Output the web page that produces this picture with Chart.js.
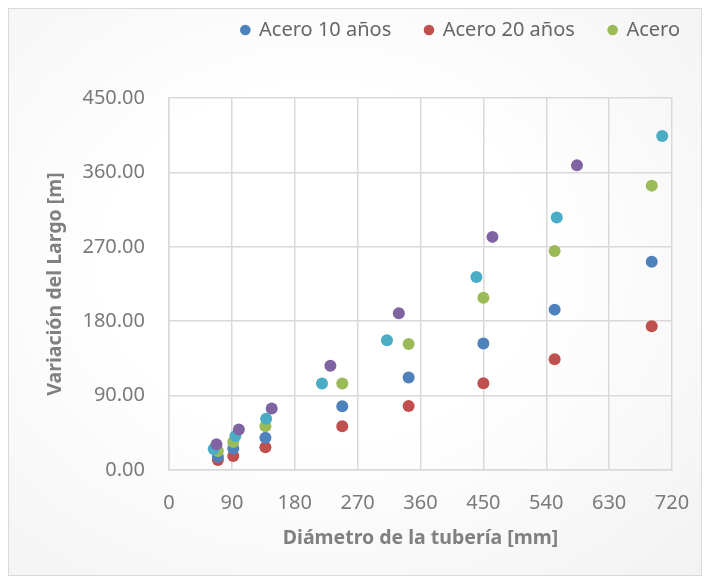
<!DOCTYPE html>
<html>
<head>
<meta charset="utf-8">
<script src="https://cdn.jsdelivr.net/npm/chart.js@4"></script>
<style>
  html, body { margin: 0; padding: 0; background: #fff; }
  #wrap {
    position: absolute; left: 8px; top: 8px; width: 692px; height: 566px;
    border: 1px solid #d9d9d9;
    background: radial-gradient(ellipse at 45% 45%, #ffffff 40%, #f2f2f2 100%);
  }
  #c { position: absolute; left: 0; top: 0; }
</style>
</head>
<body>
<div id="wrap"></div>
<canvas id="c" width="708" height="582"></canvas>
<script>
// diámetros [mm] y variación del largo [m]
const xAcero = [70, 92, 138, 248, 343, 450, 552, 691];
const acero10 = [16, 26, 39, 77, 112, 153, 194, 252];
const acero20 = [12, 17, 27.5, 53, 77.5, 105, 134, 174];
const acero = [23, 34, 53, 104.5, 152.5, 208.5, 265, 344];

const xCyan = [64, 95, 139, 219, 312, 440, 555, 706];
const yCyan = [25.5, 41, 62, 104.5, 157, 233.5, 305.5, 404];
const xPurple = [68, 100, 147, 231, 329, 463, 584];
const yPurple = [31, 49, 74.5, 126, 189.5, 282, 368.5];

const xTicks = [0, 90, 180, 270, 360, 450, 540, 630, 720];
const yTicks = [0, 90, 180, 270, 360, 450];
const legendOrder = ["Acero 10 años", "Acero 20 años", "Acero"];

const pts = (xs, ys) => xs.map((x, i) => ({ x, y: ys[i] }));

const GRID = "#d9d9d9";
const TXT = "#7a7a7a";
const FONT = "'Noto Sans', 'Open Sans', sans-serif";

function ds(label, data, color) {
  return {
    label, data,
    backgroundColor: color,
    borderColor: color,
    borderWidth: 0,
    pointRadius: 6,
    pointHoverRadius: 6,
    showLine: false,
  };
}

// leyenda más arriba y más espacio hasta el área del gráfico (como en Excel)
const legendGap = {
  id: "legendGap",
  beforeLayout(chart) {
    const lg = chart.legend;
    if (lg && !lg._gapWrapped) {
      const fit = lg.fit;
      lg.fit = function () { fit.call(this); this.height += 26; };
      lg._gapWrapped = true;
    }
  },
  afterLayout(chart) {
    const lg = chart.legend;
    lg.top -= 22; lg.bottom -= 22;
    lg.left += 6; lg.right += 6;
  },
};

new Chart(document.getElementById("c"), {
  type: "scatter",
  data: {
    datasets: [
      ds("", pts(xPurple, yPurple), "#8064A2"),
      ds("", pts(xCyan, yCyan), "#4BACC6"),
      ds("Acero", pts(xAcero, acero), "#9BBB59"),
      ds("Acero 10 años", pts(xAcero, acero10), "#4F81BD"),
      ds("Acero 20 años", pts(xAcero, acero20), "#C0504D"),
    ],
  },
  plugins: [legendGap],
  options: {
    responsive: false,
    animation: false,
    layout: { padding: { left: 8, right: 0, top: 8, bottom: 8 } },
    plugins: {
      tooltip: { enabled: false },
      legend: {
        position: "top",
        align: "end",
        labels: {
          color: "#666",
          font: { family: FONT, size: 20 },
          usePointStyle: true,
          pointStyle: "circle",
          boxWidth: 7.5,
          boxHeight: 7.5,
          padding: 34,
          filter: it => it.text !== "",
          sort: (a, b) => legendOrder.indexOf(a.text) - legendOrder.indexOf(b.text),
        },
      },
    },
    scales: {
      x: {
        type: "linear",
        min: 0, max: 720,
        afterBuildTicks: s => { s.ticks = xTicks.map(v => ({ value: v })); },
        afterFit: s => { s.height = 104; s.paddingRight = 36; },
        grid: { color: GRID, lineWidth: 1.5, drawTicks: false },
        border: { color: GRID, width: 1.5 },
        ticks: { color: TXT, font: { family: FONT, size: 20 }, padding: 21, maxRotation: 0 },
        title: {
          display: true, text: "Diámetro de la tubería [mm]",
          color: "#808080", font: { family: FONT, size: 19.5, weight: "bold" },
          padding: { bottom: 24 },
        },
      },
      y: {
        type: "linear",
        min: 0, max: 450,
        afterBuildTicks: s => { s.ticks = yTicks.map(v => ({ value: v })); },
        afterFit: s => { s.width = 161; },
        grid: { color: GRID, lineWidth: 1.5, drawTicks: false },
        border: { color: GRID, width: 1.5 },
        ticks: { color: TXT, font: { family: FONT, size: 20 }, padding: 24,
                 callback: v => v.toFixed(2) },
        title: {
          display: true, text: "Variación del Largo [m]",
          color: "#808080", font: { family: FONT, size: 19.5, weight: "bold" },
          padding: { top: 36 },
        },
      },
    },
  },
});
</script>
</body>
</html>
